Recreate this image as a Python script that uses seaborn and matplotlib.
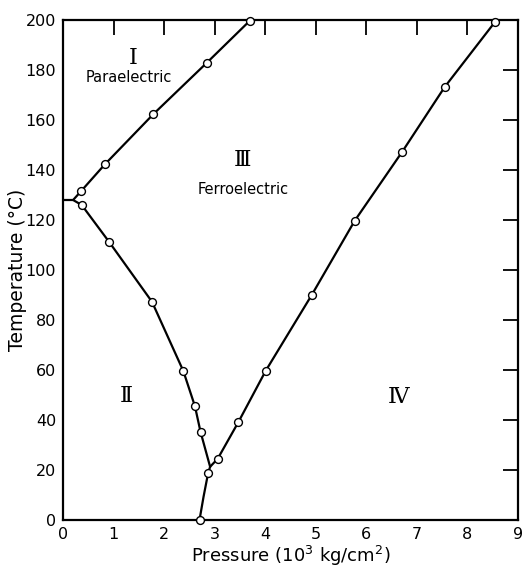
import matplotlib
matplotlib.use("Agg")
import matplotlib.pyplot as plt
import seaborn as sns
import pandas as pd

# Phase boundaries (pressure in 10^3 kg/cm^2, temperature in deg C)
p_I_III = [0.0, 0.20, 0.36, 0.83, 1.79, 2.84, 3.69]
t_I_III = [128.0, 128.0, 131.6, 142.3, 162.4, 182.8, 199.6]

p_II_III = [0.20, 0.37, 0.91, 1.76, 2.38, 2.61, 2.72, 2.91]
t_II_III = [128.0, 126.0, 111.3, 87.3, 59.6, 45.5, 35.3, 21.3]

p_II_IV = [2.70, 2.78, 2.87, 2.91]
t_II_IV = [0.0, 9.3, 18.7, 21.3]

p_III_IV = [2.91, 3.06, 3.47, 4.01, 4.92, 5.77, 6.71, 7.55, 8.54]
t_III_IV = [21.3, 24.5, 39.2, 59.7, 90.0, 119.7, 147.3, 173.2, 199.1]

# Measured transition points
p_meas = [0.36, 0.83, 1.79, 2.84, 3.69,
          0.37, 0.91, 1.76, 2.38, 2.61, 2.72,
          2.70, 2.87,
          3.06, 3.47, 4.01, 4.92, 5.77, 6.71, 7.55, 8.54]
t_meas = [131.6, 142.3, 162.4, 182.8, 199.6,
          126.0, 111.3, 87.3, 59.6, 45.5, 35.3,
          0.0, 18.7,
          24.5, 39.2, 59.7, 90.0, 119.7, 147.3, 173.2, 199.1]

x_ticks = list(range(0, 10))
y_ticks = list(range(0, 201, 20))

sns.set_style("white")
plt.rcParams["font.family"] = ["DejaVu Sans"]
plt.rcParams["text.color"] = "black"
plt.rcParams["axes.labelcolor"] = "black"

fig = plt.figure(figsize=(5.22, 5.69), dpi=100)
ax = fig.add_axes([63 / 522, 1 - 520 / 569, 455 / 522, 500 / 569])

boundaries = [(p_I_III, t_I_III), (p_II_III, t_II_III),
              (p_II_IV, t_II_IV), (p_III_IV, t_III_IV)]
for ps, ts in boundaries:
    df = pd.DataFrame({"P": ps, "T": ts})
    sns.lineplot(data=df, x="P", y="T", sort=False, color="black",
                 linewidth=1.6, ax=ax, estimator=None)

pts = pd.DataFrame({"P": p_meas, "T": t_meas})
sns.scatterplot(data=pts, x="P", y="T", s=32, facecolor="white",
                edgecolor="black", linewidth=1.0, ax=ax, zorder=5,
                clip_on=False)

ax.set_xlim(0, 9)
ax.set_ylim(0, 200)
ax.set_xticks(x_ticks)
ax.set_yticks(y_ticks)
ax.tick_params(direction="in", length=11, width=1.3, top=True, right=True,
               labelsize=11.5, colors="black", pad=5)
for s in ax.spines.values():
    s.set_linewidth(1.6)
    s.set_color("black")
    s.set_visible(True)

ax.set_xlabel("Pressure (10$^3$ kg/cm$^2$)", fontsize=13, color="black")
ax.xaxis.set_label_coords(0.5, -0.072)
ax.xaxis.label.set_va("center")
ax.set_ylabel("Temperature (°C)", fontsize=13.5, color="black")
ax.yaxis.set_label_coords(-0.100, 0.5)
ax.yaxis.label.set_va("center")

serif = ["DejaVu Serif", "DejaVu Sans"]
ax.text(1.39, 185, "Ⅰ", family=serif, fontsize=16, ha="center", va="center")
ax.text(1.31, 177, "Paraelectric", fontsize=10.5, ha="center", va="center")
ax.text(3.56, 144, "Ⅲ", family=serif, fontsize=16, ha="center", va="center")
ax.text(3.56, 132.4, "Ferroelectric", fontsize=10.5, ha="center", va="center")
ax.text(1.25, 49.6, "Ⅱ", family=serif, fontsize=16, ha="center", va="center")
ax.text(6.63, 49.3, "Ⅳ", family=serif, fontsize=16, ha="center", va="center")

fig.savefig("out.png", dpi=100, facecolor="white")
